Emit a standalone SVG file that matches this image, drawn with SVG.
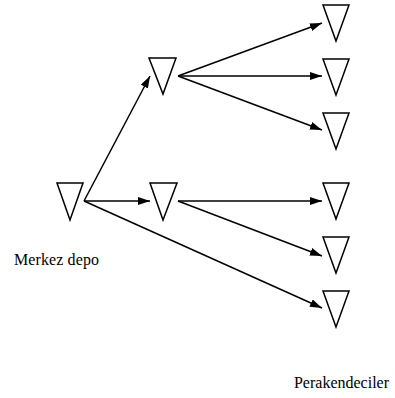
<svg xmlns="http://www.w3.org/2000/svg" width="395" height="398" viewBox="0 0 395 398">
<style>
.tri{fill:#fff;stroke:#000;stroke-width:1.5;stroke-linejoin:miter}
.ln{stroke:#000;stroke-width:1.5;fill:none;marker-end:url(#ah)}
.lbl{font-family:"Liberation Serif","Times New Roman",serif;font-size:16px;fill:#000}
</style>
<defs>
<marker id="ah" viewBox="0 0 12 8" refX="12" refY="4" markerWidth="12" markerHeight="8" markerUnits="userSpaceOnUse" orient="auto">
<path d="M0,0 L12,4 L0,8 Z" fill="#000"/>
</marker>
</defs>
<rect width="395" height="398" fill="#fff"/>
<g id="connectors">
<line class="ln" x1="84" y1="201" x2="150" y2="76"/>
<line class="ln" x1="84" y1="201" x2="150" y2="201"/>
<line class="ln" x1="84" y1="201" x2="322" y2="308"/>
<line class="ln" x1="178" y1="76" x2="322" y2="23"/>
<line class="ln" x1="178" y1="76" x2="322" y2="76"/>
<line class="ln" x1="178" y1="76" x2="322" y2="130"/>
<line class="ln" x1="178" y1="201" x2="322" y2="201"/>
<line class="ln" x1="178" y1="201" x2="322" y2="256"/>
</g>
<g id="depot">
<polygon class="tri" points="57,183 83,183 70,220"/>
<text class="lbl" transform="translate(14,265) scale(1,1.1)" x="0" y="0" textLength="85">Merkez depo</text>
</g>
<g id="hub1"><polygon class="tri" points="149,58 176,58 163,94"/></g>
<g id="hub2"><polygon class="tri" points="150,183 177,183 163,220"/></g>
<g id="r1"><polygon class="tri" points="323,5 349,5 336,41"/></g>
<g id="r2"><polygon class="tri" points="323,59 349,59 336,95"/></g>
<g id="r3"><polygon class="tri" points="323,113 349,113 336,149"/></g>
<g id="r4"><polygon class="tri" points="323,183 349,183 336,219"/></g>
<g id="r5"><polygon class="tri" points="323,237 349,237 336,273"/></g>
<g id="r6"><polygon class="tri" points="323,291 349,291 336,327"/></g>
<g id="retailers-label">
<text class="lbl" transform="translate(294,388) scale(1,1.1)" x="0" y="0" textLength="95">Perakendeciler</text>
</g>
</svg>
